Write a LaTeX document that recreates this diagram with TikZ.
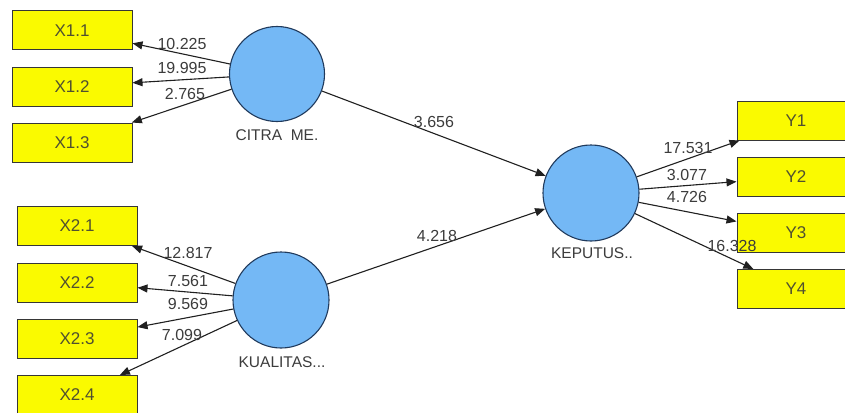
\documentclass[tikz,border=0pt]{standalone}
\usepackage{fontspec}
\setmainfont{Liberation Sans}
\usetikzlibrary{arrows.meta}
\definecolor{boxyellow}{HTML}{FAFA00}
\definecolor{latentblue}{HTML}{74B8F5}
\definecolor{latentedge}{HTML}{203A5C}
\definecolor{txtgray}{HTML}{3C3C3C}
\definecolor{boxtxt}{HTML}{505030}
\definecolor{linkgray}{HTML}{202020}
\tikzset{
  indicator/.style={draw=linkgray!90, line width=1pt, fill=boxyellow,
    minimum width=120pt, minimum height=39pt, inner sep=0pt,
    text=boxtxt, font=\fontsize{17}{17}\selectfont},
  latent/.style={circle, draw=latentedge, line width=1.1pt, fill=latentblue,
    minimum size=95pt, inner sep=0pt},
  link/.style={draw=linkgray, line width=1.1pt, -{Triangle[length=10pt,width=8pt]}},
  coef/.style={text=txtgray, inner sep=0pt, font=\fontsize{16}{16}\selectfont},
  lvname/.style={text=txtgray, inner sep=0pt, font=\fontsize{15.5}{15.5}\selectfont}
}
\begin{document}
\begin{tikzpicture}[x=1pt,y=-1pt]
\useasboundingbox (0,0) rectangle (845,412);
\fill[white] (0,0) rectangle (845,412);
\clip (0,0) rectangle (845,412);

% latent variables
\node[latent] (citra) at (277,74) {};
\node[latent, minimum size=96pt] (kual) at (281,300) {};
\node[latent, minimum size=96pt] (kep) at (591,193) {};
\node[lvname] (citraL) at (277,135) {CITRA\ \ ME.};
\node[lvname] (kualL) at (282,362) {KUALITAS...};
\node[lvname] (kepL) at (592,253) {KEPUTUS..};

% indicators
\node[indicator] (x11) at (72,30.5) {X1.1};
\node[indicator] (x12) at (72,86.5) {X1.2};
\node[indicator] (x13) at (72,142.5) {X1.3};
\node[indicator] (x21) at (77,226) {X2.1};
\node[indicator] (x22) at (77,282.5) {X2.2};
\node[indicator] (x23) at (77,338.5) {X2.3};
\node[indicator] (x24) at (77,395) {X2.4};
\node[indicator, minimum width=118pt] (y1) at (796,120.5) {Y1};
\node[indicator, minimum width=118pt] (y2) at (796,177) {Y2};
\node[indicator, minimum width=118pt] (y3) at (796,233) {Y3};
\node[indicator, minimum width=118pt] (y4) at (796,289) {Y4};

% outer loadings
\draw[link] (citra) -- (x11);
\draw[link] (citra) -- (x12);
\draw[link] (citra) -- (x13);
\draw[link] (kual) -- (x21);
\draw[link] (kual) -- (x22);
\draw[link] (kual) -- (x23);
\draw[link] (kual) -- (x24);
\draw[link] (kep) -- (y1);
\draw[link] (kep) -- (y2);
\draw[link] (kep) -- (y3);
\draw[link] (kep) -- (y4);

% inner paths
\draw[link] (citra) -- (kep);
\draw[link] (kual) -- (kep);

% t-statistics
\node[coef] (t11) at (182,44) {10.225};
\node[coef] (t12) at (182,68) {19.995};
\node[coef] (t13) at (185,94) {2.765};
\node[coef] (t21) at (188,253) {12.817};
\node[coef] (t22) at (188,281) {7.561};
\node[coef] (t23) at (188,304) {9.569};
\node[coef] (t24) at (182,335) {7.099};
\node[coef] (tc) at (434,122) {3.656};
\node[coef] (tk) at (437,236) {4.218};
\node[coef] (ty1) at (688,148) {17.531};
\node[coef] (ty2) at (687,175) {3.077};
\node[coef] (ty3) at (687,197) {4.726};
\node[coef] (ty4) at (732,246) {16.328};
\end{tikzpicture}
\end{document}
